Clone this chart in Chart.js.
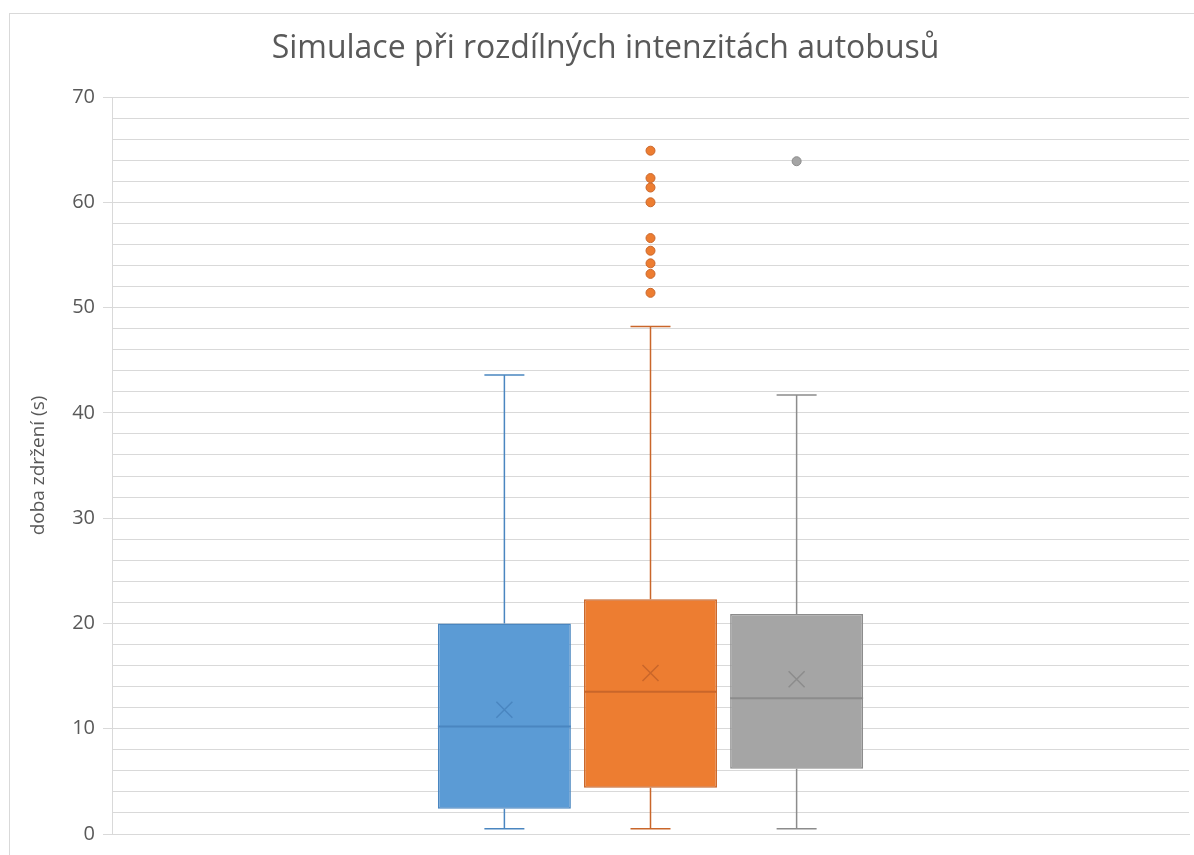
<!DOCTYPE html>
<html lang="cs">
<head>
<meta charset="utf-8">
<title>Simulace při rozdílných intenzitách autobusů</title>
<script src="https://cdn.jsdelivr.net/npm/chart.js@4.4.1/dist/chart.umd.min.js"></script>
<style>
  html, body { margin: 0; padding: 0; background: #fff; overflow: hidden; }
  #wrap { position: relative; width: 1194px; height: 855px; }
  #frame { position: absolute; left: 9px; top: 13px; width: 1250px; height: 900px; border: 1px solid #d9d9d9; }
  #chart { position: absolute; left: 0; top: 0; }
</style>
</head>
<body>
<div id="wrap">
  <div id="frame"></div>
  <canvas id="chart" width="1194" height="855"></canvas>
</div>
<script>
// data
const categories = [''];
const seriesNames = ['Intenzita 1', 'Intenzita 2', 'Intenzita 3'];
const minValues = [0.5, 0.5, 0.5];
const q1Values = [2.4, 4.4, 6.2];
const medianValues = [10.2, 13.5, 12.9];
const q3Values = [20.0, 22.3, 20.9];
const maxValues = [43.6, 48.2, 41.7];
const meanValues = [11.8, 15.3, 14.7];
const outlierValues = [
    [],
    [64.9, 62.3, 61.4, 60.0, 56.6, 55.4, 54.2, 53.2, 51.4],
    [63.9]
];
const yTicks = [0, 10, 20, 30, 40, 50, 60, 70];

const fillColors = ['#5b9bd5', '#ed7d31', '#a5a5a5'];
const lineColors = ['#4a86c0', '#c9662a', '#8c8c8c'];
const textColor = '#595959';
const gridColor = '#d9d9d9';

// whiskers, medians, means and outliers on top of the floating bars
const boxExtras = {
    id: 'boxExtras',
    afterDatasetsDraw(chart) {
        const ctx = chart.ctx;
        const y = chart.scales.y;
        seriesNames.forEach((name, i) => {
            const bar = chart.getDatasetMeta(i).data[0];
            if (!bar) return;
            const x = bar.x;
            const half = bar.width / 2;
            ctx.save();
            ctx.strokeStyle = lineColors[i];
            ctx.lineWidth = 1.5;

            // whiskers
            ctx.beginPath();
            ctx.moveTo(x, y.getPixelForValue(q3Values[i]));
            ctx.lineTo(x, y.getPixelForValue(maxValues[i]));
            ctx.moveTo(x, y.getPixelForValue(q1Values[i]));
            ctx.lineTo(x, y.getPixelForValue(minValues[i]));
            ctx.moveTo(x - 20, y.getPixelForValue(maxValues[i]));
            ctx.lineTo(x + 20, y.getPixelForValue(maxValues[i]));
            ctx.moveTo(x - 20, y.getPixelForValue(minValues[i]));
            ctx.lineTo(x + 20, y.getPixelForValue(minValues[i]));
            ctx.stroke();

            // median
            ctx.beginPath();
            ctx.lineWidth = 2;
            const ym = y.getPixelForValue(medianValues[i]);
            ctx.moveTo(x - half, ym);
            ctx.lineTo(x + half, ym);
            ctx.stroke();

            // mean marker
            const ya = y.getPixelForValue(meanValues[i]);
            ctx.beginPath();
            ctx.lineWidth = 1.5;
            ctx.moveTo(x - 8, ya - 8);
            ctx.lineTo(x + 8, ya + 8);
            ctx.moveTo(x + 8, ya - 8);
            ctx.lineTo(x - 8, ya + 8);
            ctx.stroke();

            // outliers
            ctx.fillStyle = fillColors[i];
            ctx.lineWidth = 1;
            outlierValues[i].forEach(v => {
                ctx.beginPath();
                ctx.arc(x, y.getPixelForValue(v), 4.5, 0, Math.PI * 2);
                ctx.fill();
                ctx.stroke();
            });
            ctx.restore();
        });
    }
};

const datasets = seriesNames.map((name, i) => ({
    label: name,
    data: [[q1Values[i], q3Values[i]]],
    backgroundColor: fillColors[i],
    borderColor: lineColors[i],
    borderWidth: 1.5,
    borderSkipped: false,
    categoryPercentage: 0.407,
    barPercentage: 0.91
}));

new Chart(document.getElementById('chart'), {
    type: 'bar',
    data: { labels: categories, datasets: datasets },
    plugins: [boxExtras],
    options: {
        responsive: false,
        animation: false,
        layout: { padding: { top: 0, right: 5, bottom: 21, left: 22 } },
        plugins: {
            legend: { display: false },
            tooltip: { enabled: false },
            title: {
                display: true,
                text: 'Simulace při rozdílných intenzitách autobusů',
                color: textColor,
                font: { family: 'Open Sans', size: 32, weight: 'normal' },
                padding: { top: 30, bottom: 28.6 }
            }
        },
        scales: {
            x: {
                grid: { display: false },
                border: { display: true, color: gridColor, width: 1 },
                ticks: { display: false },
                afterFit: (scale) => { scale.height = 0; }
            },
            y: {
                min: 0,
                max: 70,
                grid: {
                    color: gridColor,
                    lineWidth: 1,
                    tickLength: 9,
                    tickColor: (c) => yTicks.includes(c.tick && c.tick.value) ? gridColor : 'rgba(0,0,0,0)'
                },
                border: { display: true, color: gridColor, width: 1 },
                ticks: {
                    stepSize: 2,
                    autoSkip: false,
                    padding: 8,
                    color: textColor,
                    font: { family: 'Open Sans', size: 20 },
                    callback: (v) => yTicks.includes(v) ? v : ''
                },
                title: {
                    display: true,
                    text: 'doba zdržení (s)',
                    color: textColor,
                    font: { family: 'Open Sans', size: 19 },
                    padding: { top: 5, bottom: 0 }
                },
                afterFit: (scale) => { scale.width = 90; }
            }
        }
    }
});
</script>
</body>
</html>
